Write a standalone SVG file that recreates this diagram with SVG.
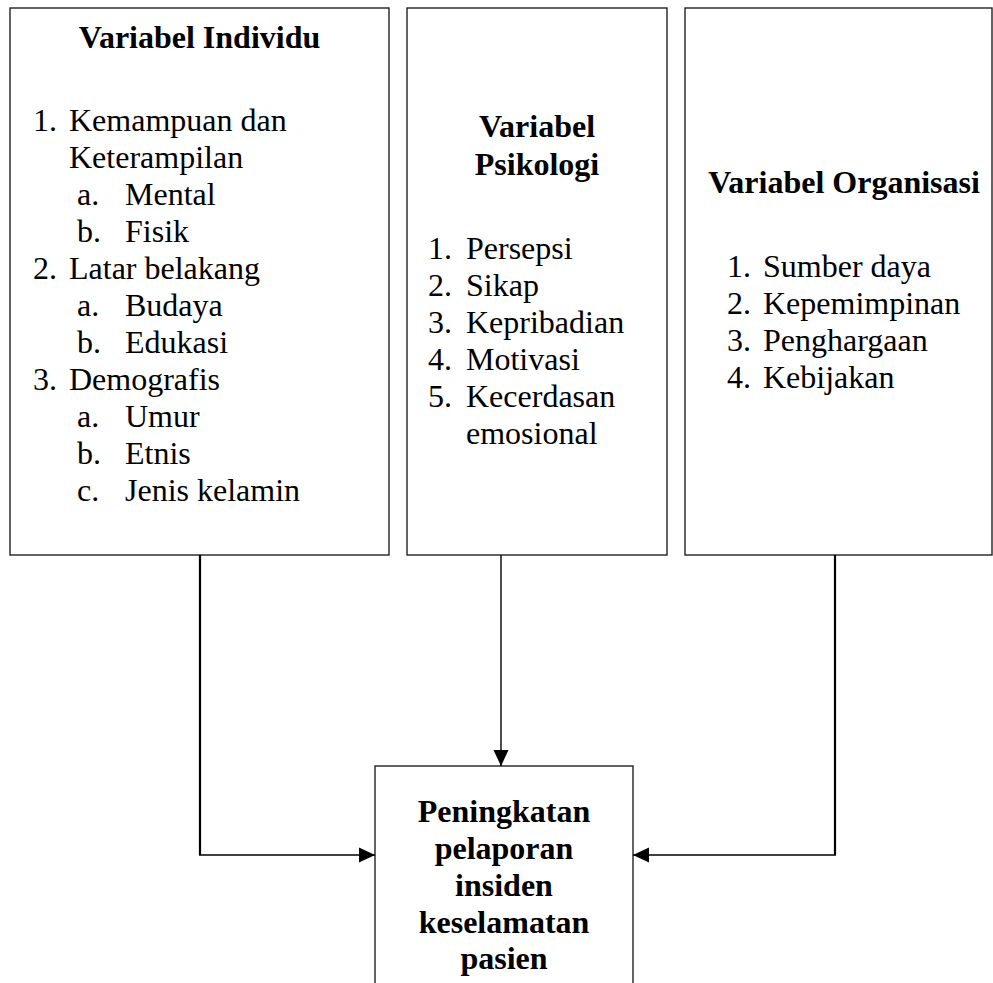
<svg xmlns="http://www.w3.org/2000/svg" width="993" height="983" viewBox="0 0 993 983">
<style>
.box{fill:#fff;stroke:#222;stroke-width:1.4}
.t{font-family:"Liberation Serif","Times New Roman",serif;font-size:32px;fill:#000}
.b{font-weight:bold}
.c{text-anchor:middle}
.conn{fill:none;stroke:#000}
</style>
<defs>
<marker id="arr" viewBox="0 0 16 16" refX="16" refY="8" markerWidth="16" markerHeight="16" markerUnits="userSpaceOnUse" orient="auto">
<path d="M0,0.5 L16,8 L0,15.5 Z" fill="#000"/>
</marker>
</defs>
<rect width="993" height="983" fill="#fff"/>
<g id="individu">
<rect class="box" x="10" y="8" width="379" height="547"/>
<text class="t b c" x="199.5" y="48">Variabel Individu</text>
<text class="t" x="33" y="131">1.</text><text class="t" x="69" y="131">Kemampuan dan</text>
<text class="t" x="69" y="168">Keterampilan</text>
<text class="t" x="77" y="205">a.</text><text class="t" x="125" y="205">Mental</text>
<text class="t" x="77" y="242">b.</text><text class="t" x="125" y="242">Fisik</text>
<text class="t" x="33" y="279">2.</text><text class="t" x="69" y="279">Latar belakang</text>
<text class="t" x="77" y="316">a.</text><text class="t" x="125" y="316">Budaya</text>
<text class="t" x="77" y="353">b.</text><text class="t" x="125" y="353">Edukasi</text>
<text class="t" x="33" y="390">3.</text><text class="t" x="69" y="390">Demografis</text>
<text class="t" x="77" y="427">a.</text><text class="t" x="125" y="427">Umur</text>
<text class="t" x="77" y="464">b.</text><text class="t" x="125" y="464">Etnis</text>
<text class="t" x="77" y="501">c.</text><text class="t" x="125" y="501">Jenis kelamin</text>
</g>
<g id="psikologi">
<rect class="box" x="407" y="8" width="260" height="547"/>
<text class="t b c" x="537" y="137">Variabel</text>
<text class="t b c" x="537" y="175">Psikologi</text>
<text class="t" x="428" y="259">1.</text><text class="t" x="466" y="259">Persepsi</text>
<text class="t" x="428" y="296">2.</text><text class="t" x="466" y="296">Sikap</text>
<text class="t" x="428" y="333">3.</text><text class="t" x="466" y="333">Kepribadian</text>
<text class="t" x="428" y="370">4.</text><text class="t" x="466" y="370">Motivasi</text>
<text class="t" x="428" y="407">5.</text><text class="t" x="466" y="407">Kecerdasan</text>
<text class="t" x="466" y="444">emosional</text>
</g>
<g id="organisasi">
<rect class="box" x="685" y="8" width="307" height="547"/>
<text class="t b c" x="844" y="193">Variabel Organisasi</text>
<text class="t" x="727" y="277">1.</text><text class="t" x="763" y="277">Sumber daya</text>
<text class="t" x="727" y="314">2.</text><text class="t" x="763" y="314">Kepemimpinan</text>
<text class="t" x="727" y="351">3.</text><text class="t" x="763" y="351">Penghargaan</text>
<text class="t" x="727" y="388">4.</text><text class="t" x="763" y="388">Kebijakan</text>
</g>
<g id="pelaporan">
<rect class="box" x="375" y="766" width="258" height="240"/>
<text class="t b c" x="504" y="822">Peningkatan</text>
<text class="t b c" x="504" y="859">pelaporan</text>
<text class="t b c" x="504" y="896">insiden</text>
<text class="t b c" x="504" y="933">keselamatan</text>
<text class="t b c" x="504" y="969">pasien</text>
</g>
<g id="connectors">
<path class="conn" d="M200,555 V855" stroke-width="2.2"/>
<path class="conn" d="M199,855 H375" stroke-width="1.4" marker-end="url(#arr)"/>
<path class="conn" d="M501,555 V766" stroke-width="1.4" marker-end="url(#arr)"/>
<path class="conn" d="M835,555 V855" stroke-width="2.2"/>
<path class="conn" d="M836,855 H633" stroke-width="1.4" marker-end="url(#arr)"/>
</g>
</svg>
